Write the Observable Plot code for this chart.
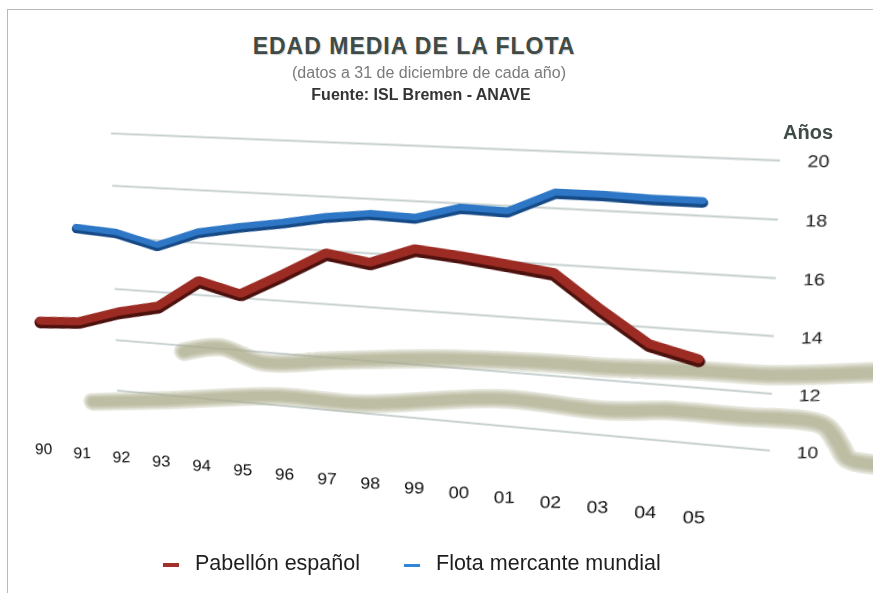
<!DOCTYPE html>
<html>
<head>
<meta charset="utf-8">
<script src="https://cdn.jsdelivr.net/npm/d3@7"></script>
<script src="https://cdn.jsdelivr.net/npm/@observablehq/plot@0.6"></script>
<style>
  html, body { margin: 0; padding: 0; background: #ffffff; overflow: hidden; width: 873px; height: 593px; }
  #page { position: relative; width: 873px; height: 593px; font-family: "Liberation Sans", Arial, sans-serif; overflow: hidden; }
  #frame { position: absolute; left: 7px; top: 9px; width: 900px; height: 620px; border-left: 1.5px solid #b9b9b9; border-top: 1.5px solid #b9b9b9; }
  #chart { position: absolute; left: 0; top: 0; width: 873px; height: 593px; }
  .t { position: absolute; text-align: center; white-space: nowrap; }
  #title { top: 33px; left: 0; width: 828px; font-size: 23px; line-height: 26px; font-weight: bold; letter-spacing: 1px; color: #3e4b47; text-shadow: 1px 1px 1px rgba(0,0,0,0.18); }
  #sub { top: 64px; left: 0; width: 858px; font-size: 16px; line-height: 18px; color: #7a7a7a; }
  #src { top: 86px; left: 0; width: 842px; font-size: 16px; line-height: 18px; font-weight: bold; color: #343434; }
  #anios { position: absolute; left: 783px; top: 120px; font-size: 20px; line-height: 24px; font-weight: bold; color: #3e4b47; }
  .sw { position: absolute; top: 563px; width: 16px; height: 4px; }
  .lt { position: absolute; top: 551px; font-size: 21.5px; line-height: 24px; color: #1e1e1e; white-space: nowrap; }
</style>
</head>
<body>
<div id="page">
  <div id="frame"></div>
  <div id="chart"></div>
  <div id="title" class="t">EDAD MEDIA DE LA FLOTA</div>
  <div id="sub" class="t">(datos a 31 de diciembre de cada año)</div>
  <div id="src" class="t">Fuente: ISL Bremen - ANAVE</div>
  <div id="anios">Años</div>
  <div id="legend"></div>
</div>
<script>
// ---------- data ----------
const years = [1990, 1991, 1992, 1993, 1994, 1995, 1996, 1997, 1998, 1999, 2000, 2001, 2002, 2003, 2004, 2005];
const yearLabels = ["90", "91", "92", "93", "94", "95", "96", "97", "98", "99", "00", "01", "02", "03", "04", "05"];
const pabellonEspanol = [12.5, 12.6, 13.1, 13.45, 14.55, 14.15, 15.0, 15.9, 15.65, 16.25, 16.1, 15.9, 15.7, 14.5, 13.4, 13.0];
const flotaMundial = [null, 16.3, 16.2, 15.8, 16.4, 16.7, 16.95, 17.25, 17.45, 17.4, 17.85, 17.8, 18.55, 18.55, 18.5, 18.5];
const yTicks = [10, 12, 14, 16, 18, 20];
const yTickLabels = ["10", "12", "14", "16", "18", "20"];
const seriesNames = ["Pabellón español", "Flota mercante mundial"];
// floor shadows (decorative bands)
const sombraSupAnios = [1993.6, 1994.5, 1995.5, 1997.2, 1999.7, 2002.2, 2003.1, 2005.1, 2006.5, 2008.6];
const sombraSupEdad = [11.75, 12.05, 11.6, 11.9, 12.3, 12.45, 12.45, 12.6, 12.65, 13.05];
const sombraInfAnios = [1991.3, 1993.2, 1995.9, 1997.8, 2000.9, 2003.1, 2004.5, 2005.8, 2007.5, 2007.8, 2008.0, 2008.6];
const sombraInfEdad = [9.45, 9.8, 10.35, 10.35, 11.0, 10.9, 11.1, 11.1, 11.05, 10.45, 9.95, 9.85];

// ---------- layout constants ----------
const wallStart = 1991.94, wallEnd = 2006.49;   // extent of the back wall (years)
const W = 873, H = 420, mL = 30, mR = 120, mT = 20, mB = 40;
const colors = ["#9c2b24", "#2d77c6"];
const dark = ["#4e120e", "#164a86"];
const font = "'Liberation Sans', Arial, Helvetica, sans-serif";
const shadowWidths = [20, 16, 12.5, 9];

const red = years.map((a, i) => ({anio: a, edad: pabellonEspanol[i]}));
const blue = years.map((a, i) => ({anio: a, edad: flotaMundial[i]}));
const sSup = sombraSupAnios.map((a, i) => ({anio: a, edad: sombraSupEdad[i]}));
const sInf = sombraInfAnios.map((a, i) => ({anio: a, edad: sombraInfEdad[i]}));

// soft (blurred-looking) floor shadows: stacked translucent strokes
const shadowMarks = [sSup, sInf].flatMap(data => shadowWidths.map(w =>
  Plot.line(data, {x: "anio", y: "edad", stroke: "#aaaa8c", strokeWidth: w, strokeOpacity: 0.32,
                   strokeLinejoin: "round", strokeLinecap: "round", curve: "catmull-rom"})));

const chart = Plot.plot({
  width: W, height: H, marginLeft: mL, marginRight: mR, marginTop: mT, marginBottom: mB,
  style: {background: "transparent", overflow: "visible", maxWidth: "none", height: H + "px", fontFamily: font},
  x: {type: "linear", domain: [1989.6, wallEnd]},
  y: {type: "linear", domain: [7.65, 20.5]},
  marks: [
    Plot.ruleY(yTicks, {y: d => d, x1: wallStart, x2: wallEnd, stroke: "#c6cfcf", strokeWidth: 2}),
    ...shadowMarks,
    Plot.line(blue, {x: "anio", y: "edad", stroke: dark[1], strokeWidth: 9.5, dy: 1.4, strokeLinejoin: "miter"}),
    Plot.line(blue, {x: "anio", y: "edad", stroke: colors[1], strokeWidth: 6.8, dy: -0.7, strokeLinejoin: "miter"}),
    Plot.line(red, {x: "anio", y: "edad", stroke: dark[0], strokeWidth: 12, dy: 1.8, strokeLinejoin: "miter"}),
    Plot.line(red, {x: "anio", y: "edad", stroke: colors[0], strokeWidth: 9, dy: -0.6, strokeLinejoin: "miter"}),
    Plot.axisX(years, {anchor: "bottom", tickSize: 0, tickPadding: 2, tickFormat: d => yearLabels[years.indexOf(d)], fontSize: 17.5, fontFamily: font, fill: "#111", label: null}),
    Plot.axisY(yTicks, {anchor: "right", tickSize: 0, tickPadding: 22, tickFormat: d => yTickLabels[yTicks.indexOf(d)], fontSize: 16, fontFamily: font, fill: "#1a1a1a", label: null})
  ]
});

const holder = document.getElementById("chart");
holder.appendChild(chart);
chart.style.position = "absolute";
chart.style.left = "0px";
chart.style.top = "0px";
chart.style.transformOrigin = "0 0";

// ---------- perspective: homography from the flat wall to the drawn wall ----------
function homography(src, dst) {
  const A = [], b = [];
  for (let i = 0; i < 4; i++) {
    const [x, y] = src[i], [X, Y] = dst[i];
    A.push([x, y, 1, 0, 0, 0, -x * X, -y * X]); b.push(X);
    A.push([0, 0, 0, x, y, 1, -x * Y, -y * Y]); b.push(Y);
  }
  const n = 8;
  for (let c = 0; c < n; c++) {
    let p = c;
    for (let r = c + 1; r < n; r++) if (Math.abs(A[r][c]) > Math.abs(A[p][c])) p = r;
    [A[c], A[p]] = [A[p], A[c]]; [b[c], b[p]] = [b[p], b[c]];
    for (let r = 0; r < n; r++) {
      if (r === c) continue;
      const f = A[r][c] / A[c][c];
      for (let k = c; k < n; k++) A[r][k] -= f * A[c][k];
      b[r] -= f * b[c];
    }
  }
  return A.map((row, i) => b[i] / row[i]);
}
const sx = chart.scale("x"), sy = chart.scale("y");
const xs = d3.scaleLinear(sx.domain, sx.range);
const ys = d3.scaleLinear(sy.domain, sy.range);
const src = [[xs(wallStart), ys(20)], [xs(wallEnd), ys(20)], [xs(wallStart), ys(10)], [xs(wallEnd), ys(10)]];
const dst = [[111, 133], [780, 160], [117, 390], [770, 450]];
const h = homography(src, dst);
function jac(x, y) {
  const w = h[6] * x + h[7] * y + 1;
  const X = (h[0] * x + h[1] * y + h[2]) / w, Y = (h[3] * x + h[4] * y + h[5]) / w;
  return {a: (h[0] - X * h[6]) / w, b: (h[1] - X * h[7]) / w, c: (h[3] - Y * h[6]) / w, d: (h[4] - Y * h[7]) / w};
}
// keep tick labels upright (undo the local shear)
chart.querySelectorAll('g[aria-label$="tick label"] text').forEach(t => {
  let tr = t.getAttribute("transform") || "";
  const ax = t.getAttribute("x"), ay = t.getAttribute("y");
  let ox = 0, oy = 0;
  if (ax && !/em/.test(ax)) { ox = +ax; t.removeAttribute("x"); }
  if (ay && !/em/.test(ay)) { oy = +ay; t.removeAttribute("y"); }
  tr += ` translate(${ox},${oy})`;
  t.setAttribute("transform", tr);
  const m = t.getCTM();
  const J = jac(m.e, m.f);
  const s = -J.c / J.d;
  t.setAttribute("transform", tr + ` matrix(1,${s},0,1,0,0)`);
});
chart.style.transform = `matrix3d(${h[0]},${h[3]},0,${h[6]},${h[1]},${h[4]},0,${h[7]},0,0,1,0,${h[2]},${h[5]},0,1)`;

// ---------- legend ----------
const legend = document.getElementById("legend");
const swX = [163, 404], txX = [195, 436];
seriesNames.forEach((name, i) => {
  const sw = document.createElement("span");
  sw.className = "sw"; sw.style.left = swX[i] + "px";
  sw.style.background = i === 0 ? "#a3302a" : "#2f86d6";
  if (i === 1) { sw.style.height = "3px"; sw.style.top = "564px"; }
  legend.appendChild(sw);
  const tx = document.createElement("span");
  tx.className = "lt"; tx.style.left = txX[i] + "px"; tx.textContent = name;
  legend.appendChild(tx);
});
</script>
</body>
</html>
